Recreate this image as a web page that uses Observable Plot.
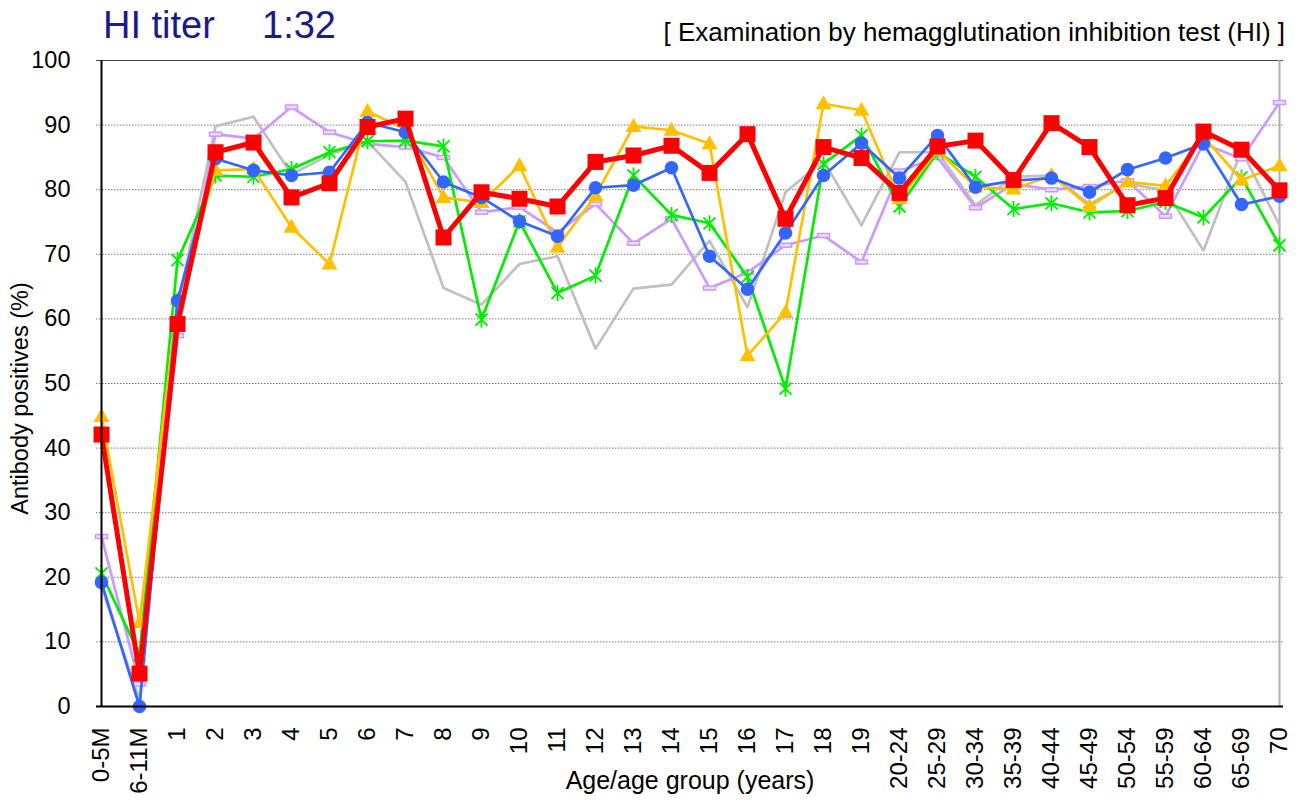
<!DOCTYPE html>
<html>
<head>
<meta charset="utf-8">
<script src="https://cdn.jsdelivr.net/npm/d3@7"></script>
<script src="https://cdn.jsdelivr.net/npm/@observablehq/plot@0.6"></script>
<style>
  html, body { margin: 0; padding: 0; background: #fff; }
  #wrap { position: relative; width: 1309px; height: 802px; font-family: "Liberation Sans", Arial, sans-serif; }
  .title { position: absolute; top: 6px; font-size: 38px; line-height: 1; color: #1a1a8c; white-space: pre; }
  #subtitle { position: absolute; right: 24px; top: 19px; font-size: 26px; line-height: 1; color: #000; white-space: pre; }
</style>
</head>
<body>
<div id="wrap">
  <div id="chart"></div>
  <div class="title" style="left:103px">HI titer</div>
  <div class="title" style="left:262px">1:32</div>
  <div id="subtitle">[ Examination by hemagglutination inhibition test (HI) ]</div>
</div>
<script>
const categories = ["0-5M","6-11M","1","2","3","4","5","6","7","8","9","10","11","12","13","14","15","16","17","18","19",
  "20-24","25-29","30-34","35-39","40-44","45-49","50-54","55-59","60-64","65-69","70"];
const yTicks = [0,10,20,30,40,50,60,70,80,90,100];

const grayValues     = [18.5, 1, 62, 89.8, 91.3, 82.4, 85.4, 87.5, 81.2, 64.8, 62.2, 68.5, 69.7, 55.4, 64.7, 65.3, 72.1, 61.8, 79.6, 84.5, 74.5, 85.8, 85.8, 77.6, 82, 82.2, 77.8, 80.9, 79.9, 70.6, 86.1, 74.5];
const lavenderValues = [26.3, 3.5, 57.4, 88.6, 87.9, 92.8, 88.9, 87.1, 86.6, 85, 76.5, 77.3, 73.4, 77.8, 71.7, 75.5, 64.8, 67.2, 71.4, 72.9, 68.8, 82.9, 85, 77.2, 80.9, 80, 80.5, 81.4, 75.9, 87.1, 84.8, 93.5];
const greenValues    = [20.6, 8, 69.1, 82.2, 82, 83.2, 85.8, 87.5, 87.6, 86.7, 59.9, 75.1, 64, 66.7, 82.2, 76.1, 74.8, 66.5, 49.2, 84, 88.4, 77.4, 85.8, 82, 77, 77.9, 76.5, 76.7, 78.1, 75.7, 81.9, 71.4];
const yellowValues   = [44.9, 13, 63, 83, 83.2, 74.2, 68.5, 92.1, 89.4, 78.8, 78, 83.7, 71.1, 79.1, 89.8, 89.2, 87.1, 54.3, 61, 93.3, 92.3, 78.6, 86.1, 80.4, 80.1, 82.2, 77.4, 81.2, 80.6, 88.2, 81.5, 83.7];
const blueValues     = [19.2, 0, 62.8, 84.8, 83, 82.2, 82.7, 90.4, 88.9, 81.2, 78.8, 75.1, 72.8, 80.3, 80.7, 83.4, 69.7, 64.6, 73.3, 82.2, 87.2, 81.8, 88.4, 80.4, 81.4, 81.8, 79.6, 83.1, 84.9, 87.1, 77.7, 79];
const redValues      = [42.1, 5.1, 59.2, 85.8, 87.3, 78.8, 81, 89.7, 91, 72.6, 79.6, 78.6, 77.4, 84.3, 85.3, 86.8, 82.6, 88.6, 75.5, 86.6, 84.9, 79.5, 86.7, 87.6, 81.5, 90.3, 86.6, 77.6, 78.7, 89, 86.2, 79.9];

const rows = vals => vals.map((v, i) => ({cat: categories[i], v}));

const dashSymbol = {draw(ctx) { ctx.moveTo(-6, -2); ctx.lineTo(6, -2); ctx.lineTo(6, 2); ctx.lineTo(-6, 2); ctx.closePath(); }};
const starSymbol = {draw(ctx) {
  ctx.moveTo(-6, -6); ctx.lineTo(6, 6);
  ctx.moveTo(6, -6); ctx.lineTo(-6, 6);
  ctx.moveTo(0, -8); ctx.lineTo(0, 8);
}};
const triSymbol = {draw(ctx) { ctx.moveTo(0, -8.5); ctx.lineTo(8, 5.5); ctx.lineTo(-8, 5.5); ctx.closePath(); }};
const squareSymbol = {draw(ctx) { ctx.rect(-8, -8, 16, 16); }};
const circleSymbol = {draw(ctx) { ctx.arc(0, 0, 6.8, 0, 2 * Math.PI); }};

const xy = {x: "cat", y: "v"};

const chart = Plot.plot({
  width: 1309,
  height: 802,
  marginLeft: 96,
  marginRight: 26,
  marginTop: 60,
  marginBottom: 96,
  style: {fontFamily: "'Liberation Sans', Arial, sans-serif", fontSize: "23px", background: "#fff", color: "#000", overflow: "visible"},
  x: {type: "point", domain: categories, padding: 0, axis: null},
  y: {domain: [0, 100], axis: null},
  marks: [
    Plot.ruleY(yTicks.slice(1, -1), {stroke: "#777", strokeWidth: 1, strokeDasharray: "1.5,1.5"}),
    Plot.ruleY([100], {stroke: "#444", strokeWidth: 1}),
    Plot.ruleX([categories[categories.length - 1]], {stroke: "#b0b0b0", strokeWidth: 2}),
    Plot.line(rows(grayValues), {...xy, stroke: "#c0c0c0", strokeWidth: 2.7}),
    Plot.line(rows(lavenderValues), {...xy, stroke: "#cc99ff", strokeWidth: 2.7}),
    Plot.dot(rows(lavenderValues), {...xy, symbol: dashSymbol, fill: "#eadcff", stroke: "#cc99ff", strokeWidth: 1.5}),
    Plot.line(rows(greenValues), {...xy, stroke: "#00ee00", strokeWidth: 2.7}),
    Plot.dot(rows(greenValues), {...xy, symbol: starSymbol, fill: "none", stroke: "#00ee00", strokeWidth: 1.8}),
    Plot.line(rows(yellowValues), {...xy, stroke: "#ffc000", strokeWidth: 2.7}),
    Plot.dot(rows(yellowValues), {...xy, symbol: triSymbol, fill: "#ffc000", stroke: "none"}),
    Plot.line(rows(blueValues), {...xy, stroke: "#3366ff", strokeWidth: 2.7}),
    Plot.dot(rows(blueValues), {...xy, symbol: circleSymbol, fill: "#3366ff", stroke: "none"}),
    Plot.line(rows(redValues), {...xy, stroke: "#ff0000", strokeWidth: 5}),
    Plot.dot(rows(redValues), {...xy, symbol: squareSymbol, fill: "#ff0000", stroke: "none"}),
    Plot.ruleX([categories[0]], {stroke: "#000", strokeWidth: 2}),
    Plot.ruleY([0], {stroke: "#000", strokeWidth: 2}),
    Plot.axisY({ticks: yTicks, tickSize: 0, tickPadding: 26, fontSize: 23.5, label: null}),
    Plot.axisX({tickSize: 0, tickPadding: 21, tickRotate: -90, fontSize: 24, label: null}),
    Plot.text(["Antibody positives (%)"], {frameAnchor: "left", textAnchor: "middle", dx: -76, dy: 15, rotate: -90, fontSize: 23.5}),
    Plot.text(["Age/age group (years)"], {frameAnchor: "bottom", dy: 82, fontSize: 25})
  ]
});
document.getElementById("chart").appendChild(chart);
</script>
</body>
</html>
